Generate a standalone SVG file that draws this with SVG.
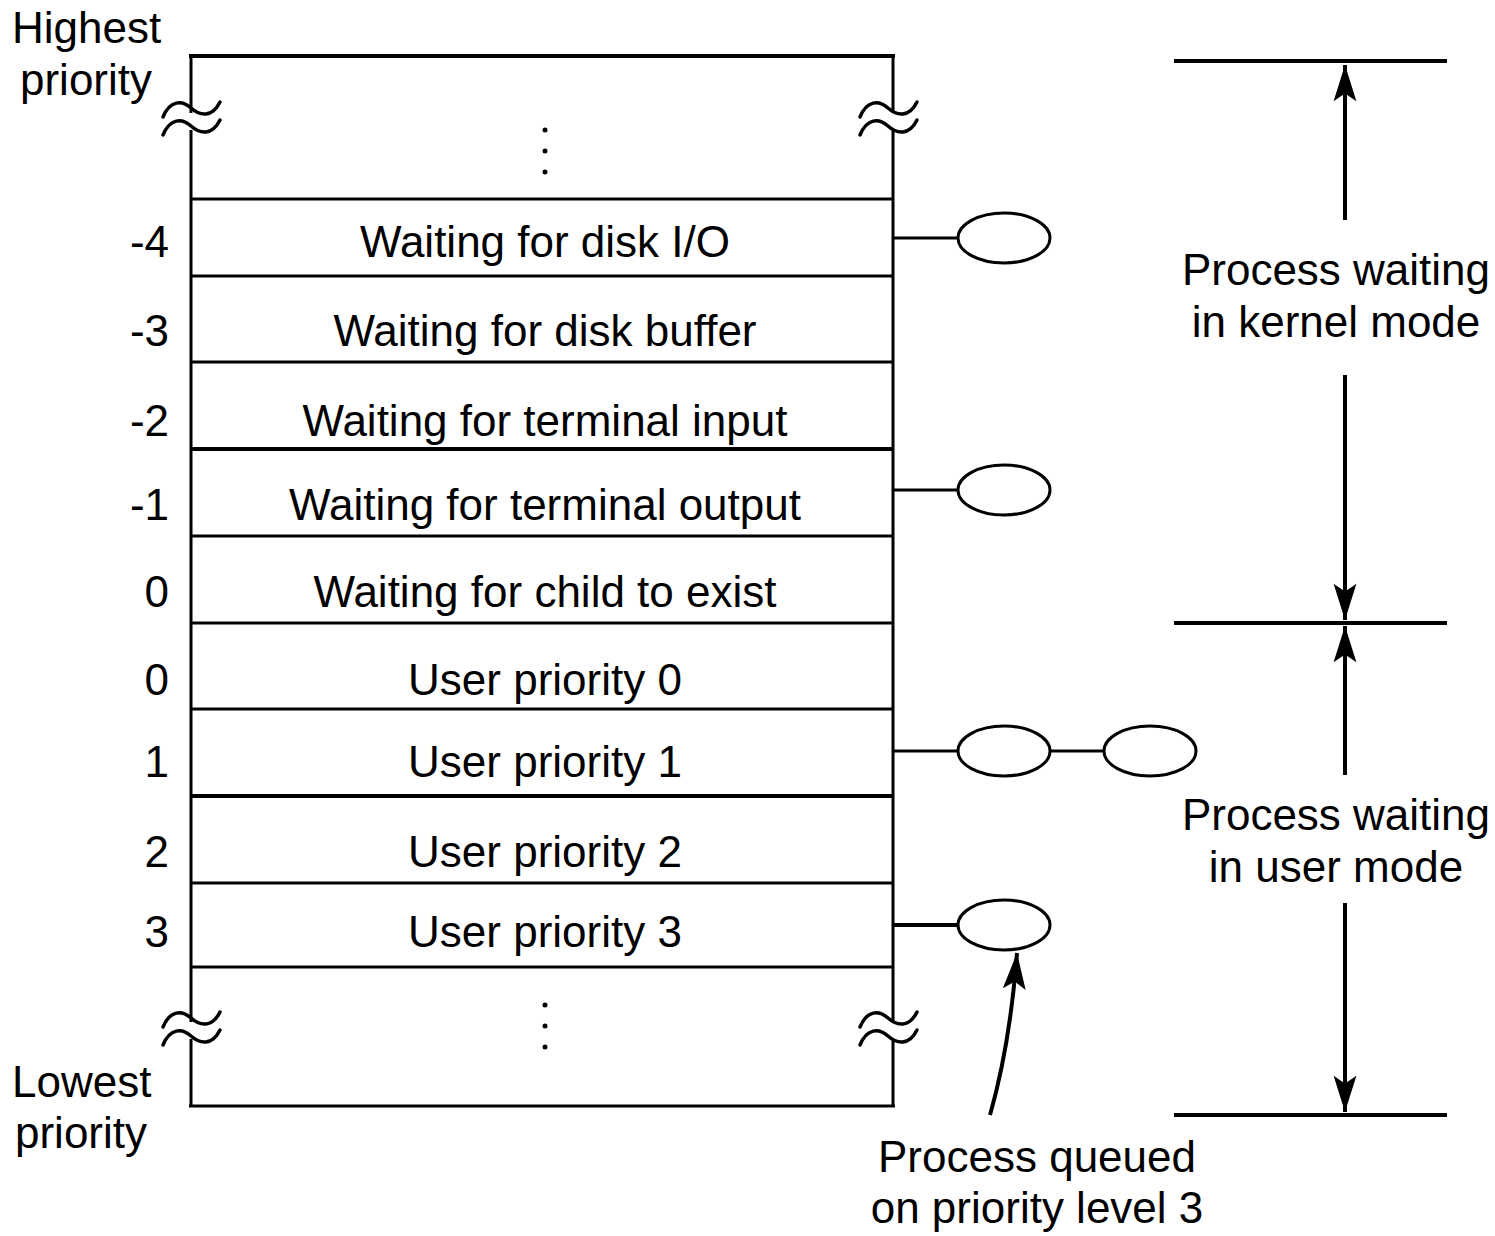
<svg xmlns="http://www.w3.org/2000/svg" width="1495" height="1236" viewBox="0 0 1495 1236">
<style>
text{font-family:"Liberation Sans",Arial,sans-serif;font-size:44px;fill:#000}
.c{text-anchor:middle}
.r{text-anchor:end}
.ln{stroke:#000;stroke-width:3;fill:none}
.thk{stroke:#000;stroke-width:4;fill:none}
.el{stroke:#000;stroke-width:3;fill:#fff}
.tl{stroke:#000;stroke-width:3.5;fill:none;stroke-linecap:round}
</style>
<defs>
<marker id="ah" markerUnits="userSpaceOnUse" markerWidth="40" markerHeight="30" viewBox="-40 -15 42 30" refX="0" refY="0" orient="auto">
<path d="M0,0 L-38,-12 L-30,0 L-38,12 Z" fill="#000"/>
</marker>
</defs>
<rect width="1495" height="1236" fill="#fff"/>
<g id="table">
<line class="thk" x1="189" y1="56" x2="895" y2="56"/>
<line class="ln" x1="191" y1="56" x2="191" y2="1106"/>
<line class="ln" x1="893" y1="56" x2="893" y2="1106"/>
<line class="ln" x1="189" y1="1106" x2="895" y2="1106"/>
<line class="ln" x1="191" y1="199" x2="893" y2="199"/>
<line class="ln" x1="191" y1="276" x2="893" y2="276"/>
<line class="ln" x1="191" y1="362" x2="893" y2="362"/>
<line class="thk" x1="191" y1="449" x2="893" y2="449"/>
<line class="ln" x1="191" y1="536" x2="893" y2="536"/>
<line class="ln" x1="191" y1="623" x2="893" y2="623"/>
<line class="ln" x1="191" y1="709" x2="893" y2="709"/>
<line class="thk" x1="191" y1="796" x2="893" y2="796"/>
<line class="ln" x1="191" y1="883" x2="893" y2="883"/>
<line class="ln" x1="191" y1="967" x2="893" y2="967"/>
<rect x="180" y="113" width="25" height="17" fill="#fff"/>
<rect x="882" y="113" width="25" height="17" fill="#fff"/>
<rect x="180" y="1022" width="25" height="17" fill="#fff"/>
<rect x="882" y="1022" width="25" height="17" fill="#fff"/>
<path class="tl" d="M163,117 C170,100 182,100 191,108 C200,116 212,118 220,102"/>
<path class="tl" d="M163,135 C170,118 182,118 191,126 C200,134 212,136 220,120"/>
<path class="tl" d="M860,117 C867,100 879,100 888,108 C897,116 909,118 917,102"/>
<path class="tl" d="M860,135 C867,118 879,118 888,126 C897,134 909,136 917,120"/>
<path class="tl" d="M163,1027 C170,1010 182,1010 191,1018 C200,1026 212,1028 220,1012"/>
<path class="tl" d="M163,1045 C170,1028 182,1028 191,1036 C200,1044 212,1046 220,1030"/>
<path class="tl" d="M860,1027 C867,1010 879,1010 888,1018 C897,1026 909,1028 917,1012"/>
<path class="tl" d="M860,1045 C867,1028 879,1028 888,1036 C897,1044 909,1046 917,1030"/>
<circle cx="545" cy="130" r="2.5"/>
<circle cx="545" cy="151" r="2.5"/>
<circle cx="545" cy="172" r="2.5"/>
<circle cx="545" cy="1005" r="2.5"/>
<circle cx="545" cy="1026" r="2.5"/>
<circle cx="545" cy="1047" r="2.5"/>
</g>
<g id="rows">
<text class="c" x="545" y="257">Waiting for disk I/O</text>
<text class="c" x="545" y="346">Waiting for disk buffer</text>
<text class="c" x="545" y="436">Waiting for terminal input</text>
<text class="c" x="545" y="520">Waiting for terminal output</text>
<text class="c" x="545" y="607">Waiting for child to exist</text>
<text class="c" x="545" y="695">User priority 0</text>
<text class="c" x="545" y="777">User priority 1</text>
<text class="c" x="545" y="867">User priority 2</text>
<text class="c" x="545" y="947">User priority 3</text>
</g>
<g id="levels">
<text class="r" x="169" y="257">-4</text>
<text class="r" x="169" y="346">-3</text>
<text class="r" x="169" y="436">-2</text>
<text class="r" x="169" y="520">-1</text>
<text class="r" x="169" y="607">0</text>
<text class="r" x="169" y="695">0</text>
<text class="r" x="169" y="777">1</text>
<text class="r" x="169" y="867">2</text>
<text class="r" x="169" y="947">3</text>
<text x="12" y="43">Highest</text>
<text x="20" y="95">priority</text>
<text x="12" y="1097">Lowest</text>
<text x="15" y="1148">priority</text>
</g>
<g id="connectors">
<line class="ln" x1="893" y1="238" x2="958" y2="238"/>
<line class="ln" x1="893" y1="490" x2="958" y2="490"/>
<line class="ln" x1="893" y1="751" x2="958" y2="751"/>
<line class="ln" x1="1050" y1="751" x2="1104" y2="751"/>
<line class="thk" x1="893" y1="925" x2="958" y2="925"/>
<path class="thk" d="M990,1115 Q1010,1045 1017,953" marker-end="url(#ah)"/>
<line class="thk" x1="1174" y1="61" x2="1447" y2="61"/>
<line class="thk" x1="1174" y1="623" x2="1447" y2="623"/>
<line class="thk" x1="1174" y1="1115" x2="1447" y2="1115"/>
<line class="thk" x1="1345" y1="220" x2="1345" y2="65" marker-end="url(#ah)"/>
<line class="thk" x1="1345" y1="375" x2="1345" y2="620" marker-end="url(#ah)"/>
<line class="thk" x1="1345" y1="775" x2="1345" y2="626" marker-end="url(#ah)"/>
<line class="thk" x1="1345" y1="903" x2="1345" y2="1112" marker-end="url(#ah)"/>
</g>
<g id="queue">
<ellipse class="el" cx="1004" cy="238" rx="46" ry="25"/>
<ellipse class="el" cx="1004" cy="490" rx="46" ry="25"/>
<ellipse class="el" cx="1004" cy="751" rx="46" ry="25"/>
<ellipse class="el" cx="1150" cy="751" rx="46" ry="25"/>
<ellipse class="el" cx="1004" cy="925" rx="46" ry="25"/>
</g>
<g id="labels">
<text class="c" x="1336" y="285">Process waiting</text>
<text class="c" x="1336" y="337">in kernel mode</text>
<text class="c" x="1336" y="830">Process waiting</text>
<text class="c" x="1336" y="882">in user mode</text>
<text class="c" x="1037" y="1172">Process queued</text>
<text class="c" x="1037" y="1223">on priority level 3</text>
</g>
</svg>
